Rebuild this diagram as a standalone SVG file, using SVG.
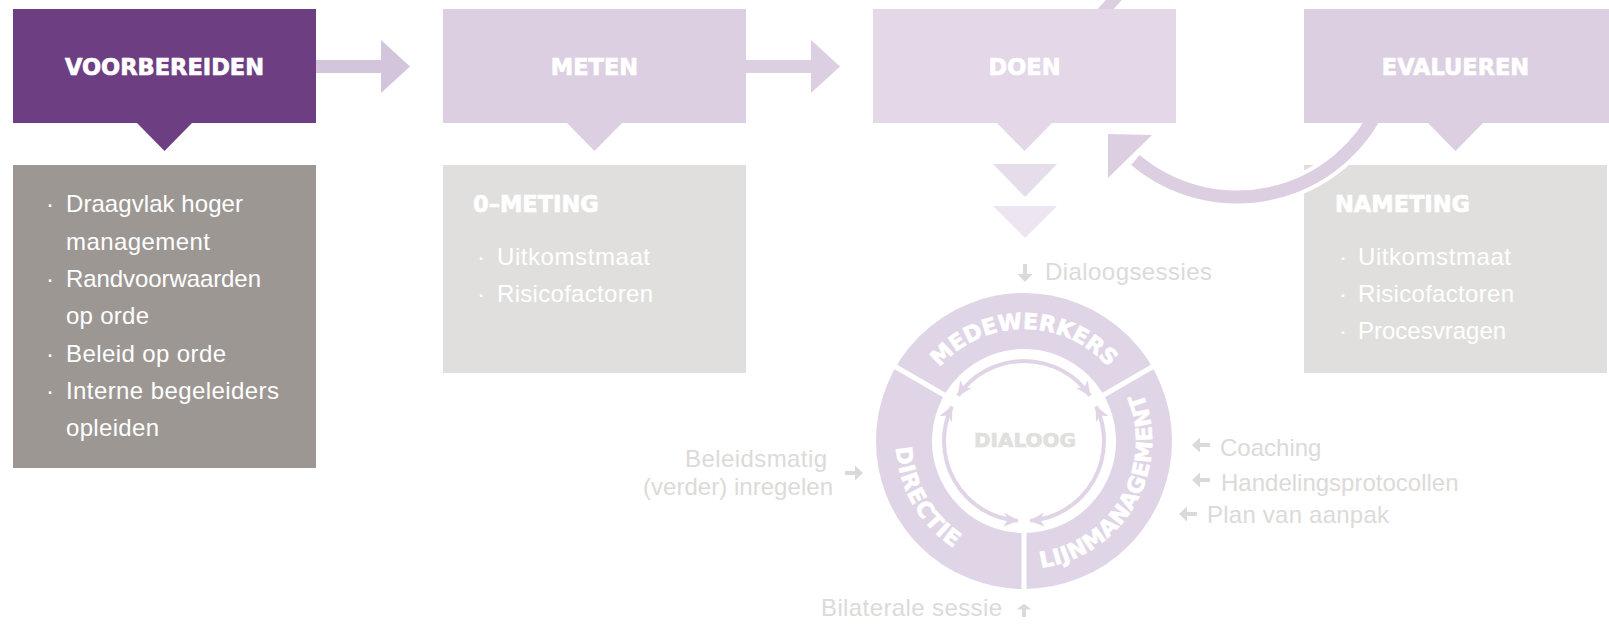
<svg xmlns="http://www.w3.org/2000/svg" width="1609" height="624" viewBox="0 0 1609 624">
<defs>
<style>
.h{font-family:"DejaVu Sans",sans-serif;font-weight:bold;font-size:22.5px;fill:#fff;stroke:#fff;stroke-width:0.7px}
.b{font-family:"Liberation Sans",Arial,sans-serif;font-size:24px;fill:#fff}
.s{font-family:"Liberation Sans",Arial,sans-serif;font-size:24px;fill:#dcdad8}
.r{font-family:"DejaVu Sans",sans-serif;font-weight:bold;font-size:22px;fill:#fff;stroke:#fff;stroke-width:0.7px}
.d{font-family:"DejaVu Sans",sans-serif;font-weight:bold;font-size:20px;fill:#e2e0de;stroke:#e2e0de;stroke-width:0.7px}
.sa{fill:#dcdad8}
</style>
<marker id="ah" markerUnits="userSpaceOnUse" viewBox="0 0 15 14" markerWidth="15" markerHeight="14" refX="14" refY="7" orient="auto-start-reverse"><path d="M0,0 L15,7 L0,14 L4,7 Z" fill="#e0d5e6"/></marker>
<path id="sarrow" d="M0,-2 L10,-2 L10,-7.5 L18,0 L10,7.5 L10,2 L0,2 Z"/>
<path id="pm" d="M912,441 A112 112 0 0 1 1136,441" fill="none"/>
<path id="pd" d="M903.72,397.22 A128 128 0 0 0 1001.77,567.06" fill="none"/>
<path id="pl" d="M980.22,561.28 A128 128 0 0 0 1106.28,342.95" fill="none"/>
</defs>

<!-- detail boxes -->
<g id="voorbereiden-detail">
<rect x="13" y="165" width="303" height="303" fill="#9d9794"/>
<g class="b">
<text x="50" y="212" text-anchor="middle">·</text><text x="66" y="212" textLength="177" lengthAdjust="spacing">Draagvlak hoger</text>
<text x="66" y="249.5" textLength="144" lengthAdjust="spacing">management</text>
<text x="50" y="287" text-anchor="middle">·</text><text x="66" y="287" textLength="195" lengthAdjust="spacing">Randvoorwaarden</text>
<text x="66" y="324" textLength="83" lengthAdjust="spacing">op orde</text>
<text x="50" y="361.5" text-anchor="middle">·</text><text x="66" y="361.5" textLength="160" lengthAdjust="spacing">Beleid op orde</text>
<text x="50" y="398.5" text-anchor="middle">·</text><text x="66" y="398.5" textLength="213" lengthAdjust="spacing">Interne begeleiders</text>
<text x="66" y="436" textLength="93" lengthAdjust="spacing">opleiden</text>
</g>
</g>

<g id="meten-detail">
<rect x="443" y="165" width="303" height="208" fill="#e0dfdd"/>
<text class="h" x="473" y="212">0–METING</text>
<g class="b">
<text x="481" y="265" text-anchor="middle">·</text><text x="497" y="265" textLength="153" lengthAdjust="spacing">Uitkomstmaat</text>
<text x="481" y="302" text-anchor="middle">·</text><text x="497" y="302" textLength="156" lengthAdjust="spacing">Risicofactoren</text>
</g>
</g>

<g id="evalueren-detail">
<rect x="1304" y="165" width="303" height="208" fill="#e0dfdd"/>
<text class="h" x="1335" y="212">NAMETING</text>
<g class="b">
<text x="1343" y="265" text-anchor="middle">·</text><text x="1358" y="265" textLength="153" lengthAdjust="spacing">Uitkomstmaat</text>
<text x="1343" y="302" text-anchor="middle">·</text><text x="1358" y="302" textLength="156" lengthAdjust="spacing">Risicofactoren</text>
<text x="1343" y="339" text-anchor="middle">·</text><text x="1358" y="339">Procesvragen</text>
</g>
</g>

<!-- connectors -->
<g id="connectors">
<line x1="1096" y1="20" x2="1128" y2="-16" stroke="#dccfe1" stroke-width="12"/>
<path d="M316,60 H381 V40 L410,66.5 L381,93 V73 H316 Z" fill="#d3c5db"/>
<path d="M746,60 H811 V40 L840,66.5 L811,93 V73 H746 Z" fill="#dccfe1"/>
<path d="M1380.2,105.8 A158 158 0 0 1 1135.4,160" fill="none" stroke="#fff" stroke-width="21"/>
<path d="M1380.2,105.8 A158 158 0 0 1 1135.4,160" fill="none" stroke="#dccfe1" stroke-width="13"/>
<polygon points="1108,134 1152,135 1108,178" fill="#dccfe1"/>
<polygon points="993,164 1057,164 1025,197" fill="#e6ddeb"/>
<polygon points="993,206 1057,206 1025,238" fill="#ede6f2"/>
</g>

<!-- phase boxes -->
<g id="voorbereiden">
<rect x="13" y="9" width="303" height="114" fill="#6d3f82"/>
<polygon points="136,122 193,122 164.5,151" fill="#6d3f82"/>
<text class="h" x="164.5" y="75" text-anchor="middle">VOORBEREIDEN</text>
</g>
<g id="meten">
<rect x="443" y="9" width="303" height="114" fill="#dccfe1"/>
<polygon points="566,122 623,122 594.5,151" fill="#dccfe1"/>
<text class="h" x="594.5" y="75" text-anchor="middle">METEN</text>
</g>
<g id="doen">
<rect x="873" y="9" width="303" height="114" fill="#e3d7e8"/>
<polygon points="996,122 1053,122 1024.5,151" fill="#e3d7e8"/>
<text class="h" x="1024.5" y="75" text-anchor="middle">DOEN</text>
</g>
<g id="evalueren">
<rect x="1304" y="9" width="305" height="114" fill="#dccfe1"/>
<polygon points="1427,122 1484,122 1455.5,151" fill="#dccfe1"/>
<text class="h" x="1455.5" y="75" text-anchor="middle">EVALUEREN</text>
</g>

<!-- dialogue circle -->
<g id="dialoog-cirkel">
<circle cx="1024" cy="441" r="120" fill="none" stroke="#e0d5e6" stroke-width="56"/>
<g stroke="#fff" stroke-width="5">
<line x1="1024" y1="527" x2="1024" y2="595"/>
<line x1="946" y1="396" x2="890.7" y2="364"/>
<line x1="1102" y1="396" x2="1157.3" y2="364"/>
</g>
<g fill="none" stroke="#e0d5e6" stroke-width="4" marker-start="url(#ah)" marker-end="url(#ah)">
<path d="M958.07,395.69 A80 80 0 0 1 1089.93,395.69"/>
<path d="M1096.2,406.56 A80 80 0 0 1 1030.28,520.75"/>
<path d="M1017.72,520.75 A80 80 0 0 1 951.8,406.56"/>
</g>
<text class="r"><textPath href="#pm" startOffset="50%" text-anchor="middle">MEDEWERKERS</textPath></text>
<text class="r" letter-spacing="1"><textPath href="#pd" startOffset="50%" text-anchor="middle">DIRECTIE</textPath></text>
<text class="r" letter-spacing="0.5"><textPath href="#pl" startOffset="50%" text-anchor="middle">LIJNMANAGEMENT</textPath></text>
<text class="d" x="1025" y="447" text-anchor="middle">DIALOOG</text>
</g>

<!-- side labels -->
<g id="label-dialoogsessies">
<use href="#sarrow" class="sa" transform="translate(1025,264) rotate(90)"/>
<text class="s" x="1045" y="280" textLength="167" lengthAdjust="spacing">Dialoogsessies</text>
</g>
<g id="label-coaching">
<use href="#sarrow" class="sa" transform="translate(1210,445) rotate(180)"/>
<text class="s" x="1220" y="456">Coaching</text>
</g>
<g id="label-handelingsprotocollen">
<use href="#sarrow" class="sa" transform="translate(1210,480) rotate(180)"/>
<text class="s" x="1221" y="491">Handelingsprotocollen</text>
</g>
<g id="label-plan">
<use href="#sarrow" class="sa" transform="translate(1197,514) rotate(180)"/>
<text class="s" x="1207" y="523" textLength="182" lengthAdjust="spacing">Plan van aanpak</text>
</g>
<g id="label-beleidsmatig">
<text class="s" x="685" y="467" textLength="142" lengthAdjust="spacing">Beleidsmatig</text>
<text class="s" x="643" y="494.5" textLength="190" lengthAdjust="spacing">(verder) inregelen</text>
<use href="#sarrow" class="sa" transform="translate(845,473)"/>
</g>
<g id="label-bilaterale">
<text class="s" x="821" y="616" textLength="181" lengthAdjust="spacing">Bilaterale sessie</text>
<use href="#sarrow" class="sa" transform="translate(1024,617) rotate(-90) scale(0.75,1)"/>
</g>
</svg>
